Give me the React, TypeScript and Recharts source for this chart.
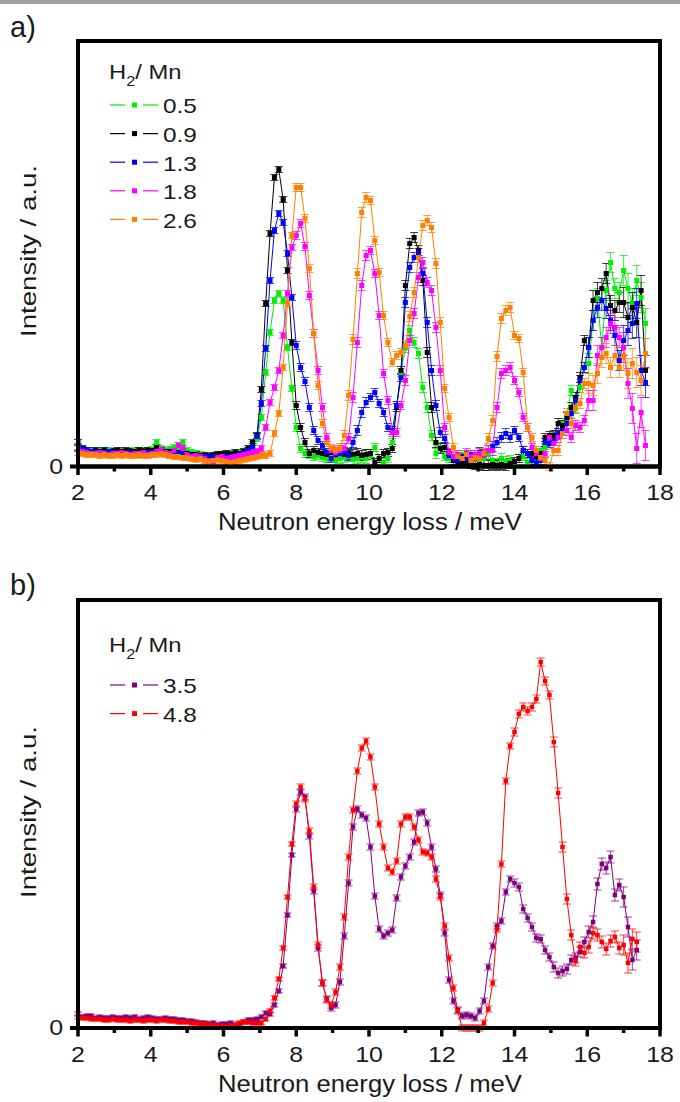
import React from "react";
import { LineChart, Line, XAxis, YAxis, ErrorBar } from "recharts";

// energy grid of the spectra (meV)
const E_START = 2;
const E_STEP = 0.12;

// panel a) intensities, arbitrary units, one value per energy step
const h05 = [
  20, 17, 16, 16, 15, 16, 15, 16, 15, 15, 16, 15, 15, 16, 16, 15, 16, 17, 24, 18,
  16, 17, 19, 18, 24, 16, 14, 13, 12, 11, 10, 11, 10, 12, 13, 12, 13, 14, 14, 16,
  22, 28, 49, 94, 134, 166, 173, 166, 119, 78, 39, 18, 13, 12, 10, 11, 9, 8, 9, 6,
  8, 9, 10, 7, 8, 9, 8, 11, 19, 8, 4, 8, 24, 61, 94, 119, 136, 124, 113, 79,
  59, 31, 13, 19, 10, 8, 6, 10, 12, 8, 5, 10, 4, 8, 12, 6, 3, 8, 5, 6,
  3, 8, 10, 4, 6, 12, 16, 19, 29, 29, 33, 43, 50, 76, 58, 79, 99, 103, 146, 168,
  119, 176, 204, 178, 174, 196, 178, 163, 186, 169, 143,
];
const h09 = [
  24, 18, 16, 15, 16, 15, 16, 15, 15, 16, 15, 16, 15, 15, 16, 15, 16, 16, 19, 16,
  15, 15, 14, 14, 15, 13, 12, 12, 11, 11, 10, 11, 12, 12, 13, 12, 14, 13, 15, 18,
  24, 31, 77, 163, 233, 289, 297, 267, 196, 124, 61, 39, 24, 13, 16, 14, 13, 12, 14, 12,
  13, 12, 13, 12, 13, 11, 12, 13, 4, 8, 13, 14, 18, 59, 96, 181, 223, 229, 216, 186,
  114, 59, 24, 18, 19, 13, 6, 5, 3, 4, 2, 1, 2, 1, 1, 2, 1, 2, 1, 3,
  5, 8, 16, 13, 13, 10, 13, 29, 31, 31, 43, 41, 49, 59, 69, 89, 126, 119, 166, 174,
  178, 193, 161, 156, 164, 164, 149, 159, 144, 176, 96,
];
const h13 = [
  19, 17, 16, 15, 15, 14, 14, 15, 14, 13, 14, 13, 14, 13, 12, 13, 14, 14, 15, 14,
  13, 12, 12, 13, 12, 10, 11, 10, 9, 10, 9, 10, 8, 9, 10, 10, 11, 12, 14, 16,
  20, 30, 63, 118, 186, 236, 253, 244, 213, 169, 121, 99, 85, 59, 36, 26, 21, 14, 8, 13,
  13, 14, 11, 24, 36, 54, 64, 69, 74, 63, 54, 39, 36, 61, 89, 164, 199, 209, 213, 193,
  144, 96, 61, 34, 28, 11, 8, 6, 10, 8, 12, 10, 14, 12, 16, 20, 24, 29, 33, 29,
  36, 29, 16, 13, 6, 3, 6, 24, 23, 26, 33, 36, 43, 53, 66, 86, 99, 119, 146, 159,
  166, 158, 146, 131, 106, 126, 136, 143, 163, 96, 84,
];
const h18 = [
  18, 15, 14, 13, 13, 14, 13, 12, 13, 13, 14, 13, 12, 13, 13, 14, 12, 13, 15, 17,
  14, 13, 16, 21, 18, 12, 10, 11, 10, 8, 6, 3, 9, 10, 8, 9, 10, 11, 12, 13,
  14, 15, 18, 39, 64, 79, 96, 131, 173, 219, 231, 243, 220, 171, 133, 96, 59, 29, 16, 14,
  16, 18, 28, 69, 124, 181, 211, 216, 193, 151, 93, 66, 34, 34, 61, 86, 126, 153, 189, 204,
  184, 176, 139, 96, 39, 14, 10, 12, 8, 14, 10, 12, 13, 11, 16, 16, 59, 93, 96, 99,
  86, 74, 49, 39, 19, 13, 8, 13, 29, 23, 29, 33, 36, 29, 41, 39, 46, 66, 66, 111,
  119, 129, 143, 139, 129, 119, 83, 58, 18, 54, 21,
];
const h26 = [
  14, 13, 12, 12, 12, 11, 12, 11, 11, 12, 11, 12, 11, 11, 12, 11, 11, 12, 12, 13,
  12, 11, 10, 10, 9, 9, 8, 7, 8, 6, 5, 6, 7, 6, 5, 4, 5, 6, 7, 8,
  9, 10, 11, 11, 13, 33, 53, 99, 163, 231, 279, 279, 248, 198, 133, 81, 43, 24, 18, 16,
  18, 31, 71, 127, 193, 254, 269, 266, 226, 194, 151, 124, 104, 111, 114, 121, 150, 174, 209, 241,
  246, 239, 203, 144, 78, 49, 19, 10, 8, 12, 6, 9, 8, 13, 28, 46, 110, 148, 156, 159,
  131, 128, 94, 39, 29, 16, 9, 6, 0, 16, 16, 33, 53, 43, 59, 63, 83, 83, 81, 93,
  109, 113, 99, 111, 99, 111, 93, 103, 94, 86, 113,
];

// panel b)
const h35 = [
  14, 11, 12, 12, 10, 11, 10, 10, 11, 10, 10, 11, 10, 11, 9, 10, 11, 10, 9, 9,
  10, 9, 9, 8, 8, 7, 7, 6, 5, 5, 4, 5, 3, 4, 4, 5, 3, 4, 6, 8,
  8, 9, 11, 15, 14, 23, 37, 62, 113, 173, 219, 236, 231, 192, 137, 80, 45, 29, 20, 23,
  46, 92, 145, 201, 219, 213, 210, 181, 132, 99, 92, 95, 98, 130, 151, 162, 171, 186, 215, 216,
  205, 181, 159, 133, 95, 48, 27, 18, 12, 13, 12, 10, 17, 27, 61, 82, 102, 107, 136, 149,
  145, 141, 119, 110, 101, 90, 89, 78, 71, 61, 55, 57, 59, 68, 70, 76, 86, 96, 106, 144,
  164, 160, 171, 133, 143, 131, 101, 68, 78,
];
const h48 = [
  11, 10, 10, 9, 9, 9, 8, 8, 9, 8, 8, 8, 7, 8, 8, 7, 8, 8, 7, 8,
  8, 7, 7, 6, 6, 6, 5, 5, 4, 4, 3, 3, 2, 2, 1, 2, 3, 5, 6, 6,
  5, 5, 5, 9, 17, 30, 49, 80, 131, 184, 224, 241, 229, 197, 141, 83, 45, 28, 23, 36,
  61, 111, 171, 218, 257, 280, 287, 271, 241, 204, 181, 160, 156, 167, 204, 211, 211, 201, 188, 176,
  175, 171, 149, 131, 102, 70, 40, 17, 0, 0, 0, 0, 0, 5, 19, 45, 99, 164, 247, 282,
  296, 314, 321, 317, 321, 329, 366, 347, 333, 286, 235, 181, 129, 93, 67, 81, 75, 81, 95, 93,
  86, 79, 87, 91, 80, 83, 65, 89, 86,
];

// error bar half-heights, per 1 meV bin from 2 to 18
const errA = [3, 3, 3, 3, 3, 3, 4, 5, 4, 5, 4, 5, 4, 5, 10, 15];
const errB = [2, 2, 2, 2, 2, 2, 3, 3, 3, 3, 3, 3, 4, 5, 6, 10];

const xTicks = [2, 3, 4, 5, 6, 7, 8, 9, 10, 11, 12, 13, 14, 15, 16, 17, 18];

const seriesA = [
  { key: "s05", label: "0.5", color: "#00ee00", values: h05 },
  { key: "s09", label: "0.9", color: "#000000", values: h09 },
  { key: "s13", label: "1.3", color: "#0000ff", values: h13 },
  { key: "s18", label: "1.8", color: "#ff00ff", values: h18 },
  { key: "s26", label: "2.6", color: "#ff8000", values: h26 },
];
const seriesB = [
  { key: "s35", label: "3.5", color: "#800080", values: h35 },
  { key: "s48", label: "4.8", color: "#ff0000", values: h48 },
];

function buildRows(series: any[], err: number[]) {
  const n = series[0].values.length;
  const rows: any[] = [];
  for (let i = 0; i < n; i++) {
    const x = +(E_START + i * E_STEP).toFixed(2);
    const row: any = { x, err: err[Math.min(15, Math.floor(x - 2))] };
    series.forEach((s) => (row[s.key] = s.values[i]));
    rows.push(row);
  }
  return rows;
}

const rowsA = buildRows(seriesA, errA);
const rowsB = buildRows(seriesB, errB);

const FONT = "Liberation Sans, Arial, sans-serif";
const INK = "#1a1a1a";
const WIDE = 1.16; // the original lettering is set a little wide

// plot box, in page pixels
const BOX_L = 78;
const BOX_R = 660;

const XTick = (props: any) => {
  const { x, y, payload } = props;
  const major = payload.value % 2 === 0;
  return (
    <g>
      <line x1={x} x2={x} y1={y} y2={y + (major ? 8.5 : 5)} stroke="#000" strokeWidth={3.5} />
      {major && (
        <text
          transform={`translate(${x},${y + 33.5}) scale(${WIDE},1)`}
          textAnchor="middle"
          fontSize={21.5}
          fontFamily={FONT}
          fill={INK}
        >
          {payload.value}
        </text>
      )}
    </g>
  );
};

const YTick = (props: any) => {
  const { x, y, payload } = props;
  return (
    <text
      transform={`translate(${x},${y + 7}) scale(${WIDE},1)`}
      textAnchor="end"
      fontSize={21.5}
      fontFamily={FONT}
      fill={INK}
    >
      {payload.value}
    </text>
  );
};

const square = (color: string, size: number) => (p: any) => (
  <rect
    key={`d-${p.index}`}
    x={p.cx - size / 2}
    y={p.cy - size / 2}
    width={size}
    height={size}
    fill={color}
  />
);

const border = { stroke: "#000", strokeWidth: 4, strokeLinecap: "square" as const };

function Panel({ rows, series, yMax, height, top, bottom, mark }: any) {
  return (
    <LineChart
      width={680}
      height={height}
      data={rows}
      margin={{ top, right: 680 - BOX_R, left: BOX_L - 70, bottom }}
    >
      <XAxis
        dataKey="x"
        type="number"
        domain={[2, 18]}
        ticks={xTicks}
        interval={0}
        allowDataOverflow
        tickLine={false}
        tickSize={0}
        tickMargin={0}
        axisLine={border}
        tick={<XTick />}
        height={60}
      />
      <YAxis
        type="number"
        domain={[0, yMax]}
        ticks={[0]}
        allowDataOverflow
        tickSize={8}
        tickMargin={7}
        tickLine={{ stroke: "#000", strokeWidth: 4 }}
        axisLine={border}
        tick={<YTick />}
        width={70}
      />
      {series.map((s: any) => (
        <Line
          key={s.key}
          dataKey={s.key}
          type="linear"
          stroke={s.color}
          strokeWidth={1}
          dot={square(s.color, mark)}
          activeDot={false}
          isAnimationActive={false}
        >
          <ErrorBar
            dataKey="err"
            direction="y"
            width={4}
            stroke={s.color}
            strokeOpacity={0.75}
            strokeWidth={1}
            isAnimationActive={false}
          />
        </Line>
      ))}
    </LineChart>
  );
}

function Legend({ series, titleY, firstY }: any) {
  return (
    <g fontFamily={FONT} fill={INK}>
      <g transform={`translate(109,${titleY}) scale(${WIDE},1)`}>
        <text x={0} y={0} fontSize={20.5}>
          H
          <tspan fontSize={14} dy={7}>
            2
          </tspan>
          <tspan fontSize={20.5} dy={-7}>
            / Mn
          </tspan>
        </text>
      </g>
      {series.map((s: any, i: number) => {
        const base = firstY + i * 28.6;
        const ly = base - 8.3;
        return (
          <g key={s.key}>
            <line x1={110} x2={125} y1={ly} y2={ly} stroke={s.color} strokeWidth={1.2} />
            <rect x={132} y={ly - 2.5} width={5} height={5} fill={s.color} />
            <line x1={143} x2={158} y1={ly} y2={ly} stroke={s.color} strokeWidth={1.2} />
            <text transform={`translate(163,${base}) scale(${WIDE},1)`} fontSize={21}>
              {s.label}
            </text>
          </g>
        );
      })}
    </g>
  );
}

export default function App() {
  return (
    <div
      style={{
        position: "absolute",
        left: 0,
        top: 0,
        width: 680,
        height: 1102,
        background: "#fff",
        overflow: "hidden",
      }}
    >
      <div style={{ position: "absolute", left: 0, top: 0, width: 680, height: 4, background: "#a0a0a0" }} />
      <div style={{ position: "absolute", left: 0, top: 0 }}>
        <Panel rows={rowsA} series={seriesA} yMax={425.5} height={560} top={41} bottom={33.5} mark={5} />
      </div>
      <div style={{ position: "absolute", left: 0, top: 560 }}>
        <Panel rows={rowsB} series={seriesB} yMax={428} height={542} top={40} bottom={14} mark={4.5} />
      </div>
      <svg
        width={680}
        height={1102}
        style={{ position: "absolute", left: 0, top: 0, pointerEvents: "none" }}
      >
        {/* frame of each plot */}
        <rect x={BOX_L} y={41} width={BOX_R - BOX_L} height={425.5} fill="none" stroke="#000" strokeWidth={4} />
        <rect x={BOX_L} y={600} width={BOX_R - BOX_L} height={428} fill="none" stroke="#000" strokeWidth={4} />
        <g fontFamily={FONT} fill={INK}>
          <text x={10} y={37} fontSize={29}>a)</text>
          <text x={10} y={595} fontSize={29}>b)</text>
          <text x={370} y={530} fontSize={23.5} textAnchor="middle" textLength={304} lengthAdjust="spacingAndGlyphs">
            Neutron energy loss / meV
          </text>
          <text x={370} y={1091.5} fontSize={23.5} textAnchor="middle" textLength={304} lengthAdjust="spacingAndGlyphs">
            Neutron energy loss / meV
          </text>
          <text
            x={36}
            y={251}
            fontSize={22}
            textAnchor="middle"
            textLength={172}
            lengthAdjust="spacingAndGlyphs"
            transform="rotate(-90 36 251)"
          >
            Intensity / a.u.
          </text>
          <text
            x={36}
            y={812}
            fontSize={22}
            textAnchor="middle"
            textLength={172}
            lengthAdjust="spacingAndGlyphs"
            transform="rotate(-90 36 812)"
          >
            Intensity / a.u.
          </text>
        </g>
        <Legend series={seriesA} titleY={79.3} firstY={113.3} />
        <Legend series={seriesB} titleY={652} firstY={693.3} />
      </svg>
    </div>
  );
}
